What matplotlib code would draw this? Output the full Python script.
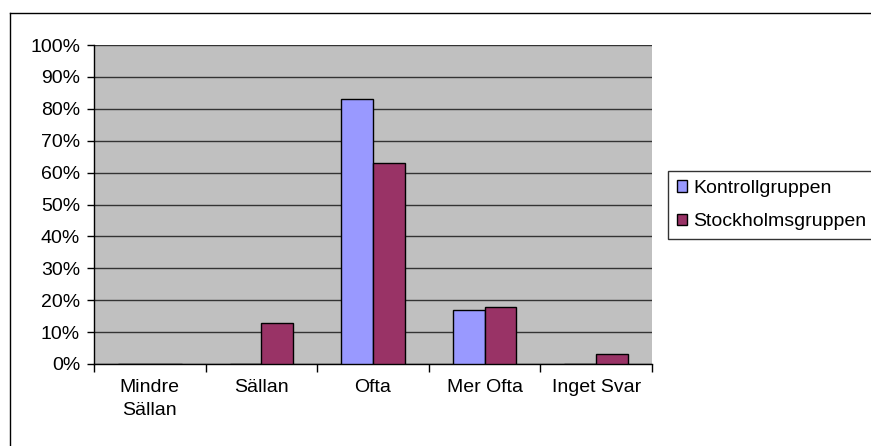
import numpy as np
import matplotlib
matplotlib.use("Agg")
from matplotlib import pyplot as plt
from matplotlib.lines import Line2D

plt.rcParams['font.family'] = ['Liberation Sans', 'DejaVu Sans']

categories = ['Mindre\nSällan', 'Sällan', 'Ofta', 'Mer Ofta', 'Inget Svar']
kontroll = [0, 0, 83, 17, 0]
stockholm = [0, 13, 63, 18, 3]
series_names = ['Kontrollgruppen', 'Stockholmsgruppen']
yticks = np.arange(0, 101, 10)

fig = plt.figure(figsize=(8.71, 4.46), dpi=100)
ax = fig.add_axes([94 / 871, 1 - 364 / 446, 558 / 871, 319 / 446])
ax.set_facecolor('#C0C0C0')

x = np.arange(len(categories))
w = 0.285
ax.bar(x - w / 2, kontroll, w, color='#9999FF', edgecolor='black', linewidth=1, label=series_names[0], zorder=3)
ax.bar(x + w / 2, stockholm, w, color='#993366', edgecolor='black', linewidth=1, label=series_names[1], zorder=3)

ax.set_xlim(-0.5, len(categories) - 0.5)
ax.set_ylim(0, 100)
ax.set_yticks(yticks)
ax.set_yticklabels([f'{v}%' for v in yticks], fontsize=14)
ax.yaxis.grid(True, color='#333333', linewidth=1, zorder=1)
ax.set_axisbelow(True)

# category labels centered, ticks on the boundaries
ax.set_xticks(x)
ax.set_xticklabels(categories, fontsize=14, linespacing=1.45)
ax.tick_params(axis='x', length=0, pad=11)
ax.set_xticks(np.arange(-0.5, len(categories)), minor=True)
ax.tick_params(axis='x', which='minor', length=6, width=1, color='black', direction='out')
ax.tick_params(axis='y', length=5, width=1, color='black', direction='out', pad=5)

for side in ['top', 'right']:
    ax.spines[side].set_visible(False)
for side in ['left', 'bottom']:
    ax.spines[side].set_color('black')
    ax.spines[side].set_linewidth(1)

leg = fig.legend(loc='upper left', bbox_to_anchor=(668 / 871, 1 - 171 / 446),
                 fontsize=14, frameon=True, fancybox=False, borderpad=0.45,
                 handlelength=0.55, handleheight=0.55, handletextpad=0.3,
                 labelspacing=0.85, borderaxespad=0)
leg.get_frame().set_edgecolor('black')
leg.get_frame().set_linewidth(1)

# chart area border
fig.add_artist(Line2D([10 / 871, 10 / 871], [0, 1 - 13 / 446], color='black', linewidth=1))
fig.add_artist(Line2D([10 / 871, 1], [1 - 13 / 446, 1 - 13 / 446], color='black', linewidth=1))

fig.savefig('out.png', dpi=100)
